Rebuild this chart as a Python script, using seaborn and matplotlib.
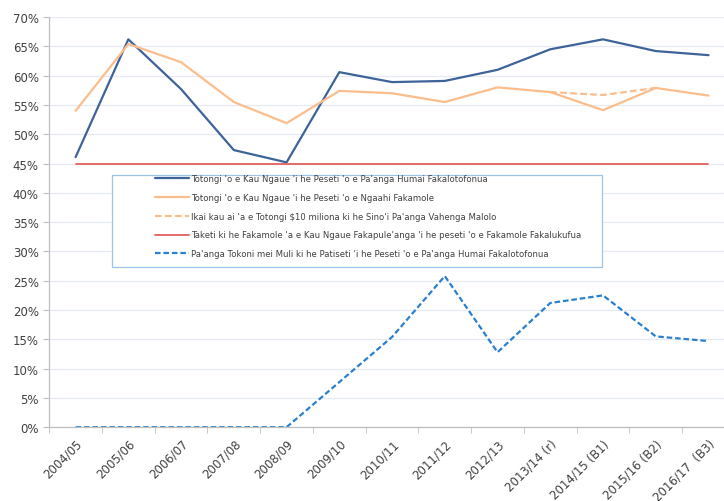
import matplotlib
matplotlib.use("Agg")
import matplotlib.pyplot as plt
import matplotlib.patches as mpatches
import numpy as np
import seaborn as sns

# data
years = ['2004/05', '2005/06', '2006/07', '2007/08', '2008/09', '2009/10', '2010/11',
         '2011/12', '2012/13', '2013/14 (r)', '2014/15 (B1)', '2015/16 (B2)', '2016/17  (B3)']

wages_dom = [46.1, 66.2, 57.7, 47.3, 45.2, 60.6, 58.9, 59.1, 61.0, 64.5, 66.2, 64.2, 63.5]
wages_exp = [54.0, 65.4, 62.3, 55.5, 51.9, 57.4, 57.0, 55.5, 58.0, 57.2, 54.1, 57.9, 56.6]
excl_years = ['2013/14 (r)', '2014/15 (B1)', '2015/16 (B2)']
excl_vals = [57.2, 56.7, 57.9]
target = [45.0] * 13
budget_support = [0, 0, 0, 0, 0, 7.7, 15.4, 25.8, 12.8, 21.2, 22.5, 15.5, 14.7]

labels = [
    "Totongi 'o e Kau Ngaue 'i he Peseti 'o e Pa'anga Humai Fakalotofonua",
    "Totongi 'o e Kau Ngaue 'i he Peseti 'o e Ngaahi Fakamole",
    "Ikai kau ai 'a e Totongi $10 miliona ki he Sino'i Pa'anga Vahenga Malolo",
    "Taketi ki he Fakamole 'a e Kau Ngaue Fakapule'anga 'i he peseti 'o e Fakamole Fakalukufua",
    "Pa'anga Tokoni mei Muli ki he Patiseti 'i he Peseti 'o e Pa'anga Humai Fakalotofonua",
]

sns.set_style("white")
plt.rcParams['font.family'] = ['DejaVu Sans']

fig = plt.figure(figsize=(7.24, 5.02), dpi=100)
ax = fig.add_axes([0.068, 0.147, 0.947, 0.817])

x = np.arange(len(years))
xe = np.array([years.index(y) for y in excl_years])

ax.yaxis.grid(True, color='#d6dff0', linewidth=0.9, linestyle=(0, (1, 0.6)))
ax.set_axisbelow(True)

sns.lineplot(x=x, y=np.array(wages_dom) / 100, ax=ax, color='#3e6399', linewidth=1.6, label=labels[0])
sns.lineplot(x=x, y=np.array(wages_exp) / 100, ax=ax, color='#fbbd8c', linewidth=1.6, label=labels[1])
sns.lineplot(x=xe, y=np.array(excl_vals) / 100, ax=ax, color='#fbbd8c', linewidth=1.6, label=labels[2])
sns.lineplot(x=x, y=np.array(target) / 100, ax=ax, color='#e0605f', linewidth=1.3, label=labels[3])
sns.lineplot(x=x, y=np.array(budget_support) / 100, ax=ax, color='#2a7fcf', linewidth=1.6, label=labels[4])

lines = ax.get_lines()
lines[2].set_dashes((3, 1.5))
lines[4].set_dashes((2.5, 1.3))

ax.set_xlim(-0.5, 12.5)
ax.set_ylim(0, 0.70)
ax.set_yticks(np.arange(0, 0.71, 0.05))
ax.set_yticklabels([f"{int(round(v * 100))}%" for v in np.arange(0, 0.71, 0.05)])
ax.set_xticks(x)
ax.set_xticklabels(years, rotation=45, ha='right', rotation_mode='anchor')
ax.set_xticks(np.arange(-0.5, 12.6, 1), minor=True)
ax.tick_params(axis='x', which='major', length=0, pad=7, labelsize=8.5, colors='#404040')
ax.tick_params(axis='x', which='minor', length=4, color='#bfbfbf', bottom=True)
ax.tick_params(axis='y', length=4, color='#bfbfbf', labelsize=8.5, colors='#404040', left=True)
ax.set_xlabel('')
ax.set_ylabel('')

for s in ['top', 'right']:
    ax.spines[s].set_visible(False)
for s in ['left', 'bottom']:
    ax.spines[s].set_color('#bfbfbf')
    ax.spines[s].set_linewidth(0.9)

# legend inside a separate frame
leg = ax.legend(loc='upper left', bbox_to_anchor=(0.150, 0.625), frameon=False,
                fontsize=6.1, handlelength=4.0, handletextpad=0.25, labelspacing=1.15,
                borderaxespad=0)
for t in leg.get_texts():
    t.set_color('#404040')
ax.add_patch(mpatches.Rectangle((0.0914, 0.390), 0.715, 0.2246, transform=ax.transAxes,
                                fill=True, facecolor='white', edgecolor='#9dc3e6',
                                linewidth=0.9, zorder=4))
leg.set_zorder(5)

fig.savefig("out.png", dpi=100)
